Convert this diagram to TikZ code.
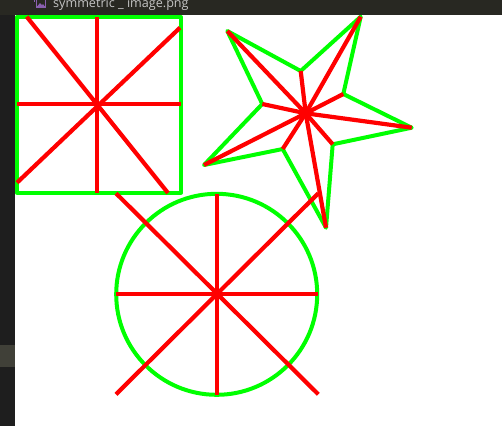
\documentclass[tikz,border=0pt]{standalone}
\usepackage{fontspec}
\setmainfont{Open Sans}
\definecolor{barbg}{HTML}{282822}
\definecolor{sidebg}{HTML}{1E1E1E}
\definecolor{sidehl}{HTML}{404038}
\definecolor{titlefg}{HTML}{C4C4C4}
\definecolor{iconfg}{HTML}{8A5FB0}
\definecolor{pgreen}{HTML}{00FF00}
\definecolor{pred}{HTML}{FF0000}
\tikzset{
  outline/.style={draw=pgreen, line width=4pt, line join=round},
  spoke/.style={draw=pred, line width=4.2pt},
}
\begin{document}
\begin{tikzpicture}[x=1pt,y=-1pt]
\useasboundingbox (0,0) rectangle (502,426);
\begin{scope}
\clip (0,0) rectangle (502,426);
% backgrounds
\fill[white] (0,0) rectangle (502,426);
\fill[sidebg] (0,0) rectangle (15,426);
\fill[sidehl] (0,345) rectangle (15,367);
\fill[barbg] (0,0) rectangle (502,15);
% icon
\draw[iconfg, line width=1.2pt] (36.5,-2) rectangle (45.5,7);
\fill[iconfg] (37.5,6) -- (40,3) -- (42,5) -- (43,4) -- (44.5,6) -- cycle;
\fill[iconfg] (34,-2) rectangle (35,2);
% title
\node[anchor=base west, inner sep=0pt, text=titlefg, font=\fontsize{12.6}{14}\selectfont] (title) at (53,7.8) {symmetric \_ image.png};

% ---- square ----
\coordinate (sqA) at (17,17);
\coordinate (sqB) at (181,17);
\coordinate (sqC) at (181,192.7);
\coordinate (sqD) at (17,192.7);
\coordinate (sqO) at (96.7,104);
\draw[outline] (sqA) -- (sqB) -- (sqC) -- (sqD) -- cycle;
\coordinate (sqT) at (96.7,17);
\coordinate (sqBt) at (96.7,192.7);
\coordinate (sqL) at (17,104);
\coordinate (sqR) at (181,104);
\coordinate (sqd1) at (26.7,16.7);
\coordinate (sqd2) at (168,193);
\coordinate (sqd3) at (180,27.7);
\coordinate (sqd4) at (17,182.7);
\draw[spoke] (sqT) -- (sqBt);
\draw[spoke] (sqL) -- (sqR);
\draw[spoke] (sqd1) -- (sqd2);
\draw[spoke] (sqd3) -- (sqd4);

% ---- star ----
\coordinate (s1) at (227.3,31);
\coordinate (i1) at (300.7,71);
\coordinate (s2) at (360.7,16.7);
\coordinate (i2) at (343.3,94);
\coordinate (s3) at (411.7,127.7);
\coordinate (i3) at (332.7,144.3);
\coordinate (s4) at (326,227.7);
\coordinate (i4) at (282.7,149);
\coordinate (s5) at (204,165);
\coordinate (i5) at (262.3,104);
\coordinate (so) at (305.7,113.3);
\draw[outline] (s1) -- (i1) -- (s2) -- (i2) -- (s3) -- (i3) -- (s4) -- (i4) -- (s5) -- (i5) -- cycle;
\foreach \p in {s1,i1,s2,i2,s3,i3,s4,i4,s5,i5}
  \draw[spoke] (so) -- (\p);

% ---- circle ----
\coordinate (co) at (216.7,294.3);
\draw[outline] (co) circle[radius=100.5];
\coordinate (cT) at (216.7,194);
\coordinate (cB) at (216.7,395);
\coordinate (cL) at (116,294.3);
\coordinate (cR) at (318,294.3);
\coordinate (cd1) at (116,193.3);
\coordinate (cd2) at (318.3,394.3);
\coordinate (cd3) at (318.3,193.3);
\coordinate (cd4) at (116,394.3);
\draw[spoke] (cT) -- (cB);
\draw[spoke] (cL) -- (cR);
\draw[spoke] (cd1) -- (cd2);
\draw[spoke] (cd3) -- (cd4);
\end{scope}
\end{tikzpicture}
\end{document}
